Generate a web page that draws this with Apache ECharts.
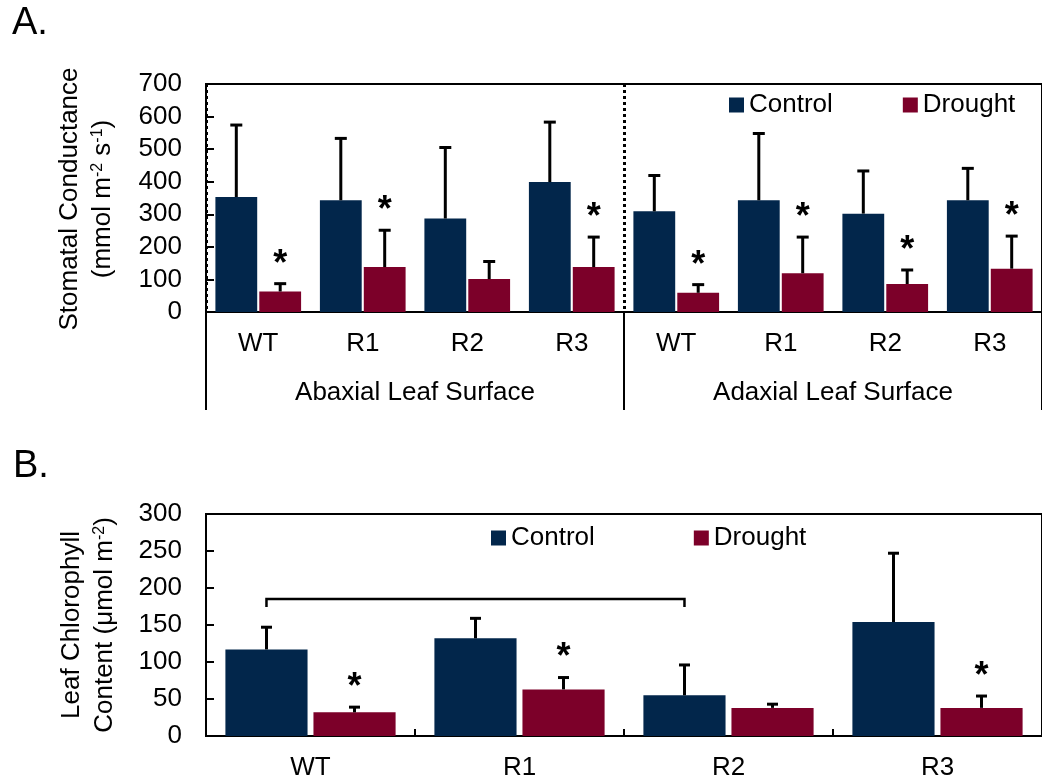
<!DOCTYPE html>
<html>
<head>
<meta charset="utf-8">
<script src="https://cdn.jsdelivr.net/npm/echarts@6/dist/echarts.min.js"></script>
<style>
  html, body { margin: 0; padding: 0; background: #fff; }
  #chart { width: 1042px; height: 783px; }
</style>
</head>
<body>
<div id="chart"></div>
<script>
// ---- Panel A: stomatal conductance (mmol m-2 s-1) ----
const genotypes = ['WT', 'R1', 'R2', 'R3'];
const surfaces = ['Abaxial Leaf Surface', 'Adaxial Leaf Surface'];
// order: abaxial WT..R3, then adaxial WT..R3
const condControl   = [353, 343, 287, 399, 309, 343, 302, 343];
const condControlSE = [221, 190, 218, 184, 110, 205, 131, 98];
const condDrought   = [63, 138, 101, 138, 59, 119, 86, 133];
const condDroughtSE = [24, 113, 54, 92, 25, 111, 43, 100];
const condDroughtSig = [1, 1, 0, 1, 1, 1, 1, 1];

// ---- Panel B: leaf chlorophyll content (umol m-2) ----
const chlControl   = [117, 132, 55, 154];
const chlControlSE = [30, 27, 41, 93];
const chlDrought   = [32, 63, 38, 38];
const chlDroughtSE = [7, 16, 5, 16];
const chlDroughtSig = [1, 1, 0, 1];
// bracket linking WT and R2 control bars
const chlBracket = { from: 0, to: 2, level: 185 };

const NAVY = '#02264B';
const MAROON = '#7C0029';
const FONT = "'Liberation Sans', Arial, sans-serif";

// category keys for the two surfaces in panel A
const condCats = [];
surfaces.forEach((s, si) => genotypes.forEach(g => condCats.push(si + ':' + g)));

// bar geometry per panel (fractions of the category band)
const geoA = { w: 0.40, g: 0.05, cap: 12 };
const geoB = { w: 0.393, g: 0.072, cap: 11 };

function barCenterX(api, idx, sign, geo) {
  const c = api.coord([idx, 0])[0];
  const band = api.size([1, 0])[0];
  const bw = band * geo.w;
  return c + sign * bw * (1 + geo.g) / 2;
}

function errorSeries(name, xi, yi, means, errs, sig, sign, geo) {
  return {
    name: name,
    type: 'custom',
    xAxisIndex: xi,
    yAxisIndex: yi,
    z: 5,
    data: means.map((m, i) => [i, m, m + errs[i], sig ? sig[i] : 0]),
    encode: { x: 0, y: [1, 2] },
    renderItem: function (params, api) {
      const i = api.value(0);
      const x = barCenterX(api, i, sign, geo);
      const yb = api.coord([i, api.value(1)])[1];
      const yt = api.coord([i, api.value(2)])[1];
      const children = [
        { type: 'line', shape: { x1: x, y1: yb, x2: x, y2: yt },
          style: { stroke: '#000', lineWidth: 3 } },
        { type: 'line', shape: { x1: x - geo.cap / 2, y1: yt, x2: x + geo.cap / 2, y2: yt },
          style: { stroke: '#000', lineWidth: 3 } }
      ];
      if (api.value(3)) {
        children.push({ type: 'text', x: x, y: yt - 19,
          style: { text: '*', align: 'center', verticalAlign: 'middle',
                   font: 'bold 36px ' + FONT, fill: '#000' } });
      }
      return { type: 'group', children: children };
    }
  };
}

const axisLineStyle = { color: '#000', width: 2 };
const tickLabel = { color: '#000', fontSize: 26, fontFamily: FONT };

const option = {
  animation: false,
  backgroundColor: '#fff',
  grid: [
    { left: 206, top: 84, width: 840, height: 228, show: true,
      borderColor: '#000', borderWidth: 2, backgroundColor: 'transparent' },
    { left: 206, top: 514, width: 844, height: 222, show: true,
      borderColor: '#000', borderWidth: 2, backgroundColor: 'transparent' }
  ],
  legend: [
    { left: 724, top: 87, data: ['Control', 'Drought'], icon: 'rect',
      itemWidth: 15, itemHeight: 15, itemGap: 70,
      textStyle: { fontSize: 26, color: '#000', fontFamily: FONT } },
    { left: 486, top: 520, data: ['Control', 'Drought'], icon: 'rect',
      itemWidth: 15, itemHeight: 15, itemGap: 99,
      textStyle: { fontSize: 26, color: '#000', fontFamily: FONT } }
  ],
  xAxis: [
    { // genotype axis, panel A
      type: 'category', gridIndex: 0, data: condCats, position: 'bottom',
      axisLine: { onZero: false, lineStyle: axisLineStyle },
      axisTick: { show: false },
      axisLabel: Object.assign({ margin: 19, interval: 0,
        formatter: v => v.split(':')[1] }, tickLabel),
      splitLine: { show: false }
    },
    { // leaf surface grouping axis, panel A
      type: 'category', gridIndex: 0, data: surfaces, position: 'bottom',
      axisLine: { show: false, onZero: false },
      axisTick: { show: true, interval: 0, length: 98, lineStyle: axisLineStyle },
      axisLabel: Object.assign({ margin: 68, interval: 0 }, tickLabel),
      splitLine: { show: true, interval: 0,
        lineStyle: { color: '#000', width: 3, type: [3, 3] } }
    },
    { // genotype axis, panel B
      type: 'category', gridIndex: 1, data: genotypes, position: 'bottom',
      axisLine: { onZero: false, lineStyle: axisLineStyle },
      axisTick: { show: true, inside: true, interval: 0, length: 7, lineStyle: axisLineStyle },
      axisLabel: Object.assign({ margin: 19, interval: 0 }, tickLabel),
      splitLine: { show: false }
    }
  ],
  yAxis: [
    { type: 'value', gridIndex: 0, min: 0, max: 700, interval: 100,
      axisLine: { show: true, lineStyle: axisLineStyle },
      axisTick: { show: true, inside: true, length: 8, lineStyle: axisLineStyle },
      axisLabel: Object.assign({ margin: 24 }, tickLabel),
      splitLine: { show: false } },
    { type: 'value', gridIndex: 1, min: 0, max: 300, interval: 50,
      axisLine: { show: true, lineStyle: axisLineStyle },
      axisTick: { show: true, inside: true, length: 8, lineStyle: axisLineStyle },
      axisLabel: Object.assign({ margin: 24 }, tickLabel),
      splitLine: { show: false } }
  ],
  series: [
    { name: 'Control', type: 'bar', xAxisIndex: 0, yAxisIndex: 0, data: condControl,
      barWidth: '40%', barGap: '5%', itemStyle: { color: NAVY } },
    { name: 'Drought', type: 'bar', xAxisIndex: 0, yAxisIndex: 0, data: condDrought,
      barWidth: '40%', barGap: '5%', itemStyle: { color: MAROON } },
    errorSeries('Control', 0, 0, condControl, condControlSE, null, -1, geoA),
    errorSeries('Drought', 0, 0, condDrought, condDroughtSE, condDroughtSig, 1, geoA),

    { name: 'Control', type: 'bar', xAxisIndex: 2, yAxisIndex: 1, data: chlControl,
      barWidth: '39.3%', barGap: '7.2%', itemStyle: { color: NAVY } },
    { name: 'Drought', type: 'bar', xAxisIndex: 2, yAxisIndex: 1, data: chlDrought,
      barWidth: '39.3%', barGap: '7.2%', itemStyle: { color: MAROON } },
    errorSeries('Control', 2, 1, chlControl, chlControlSE, null, -1, geoB),
    errorSeries('Drought', 2, 1, chlDrought, chlDroughtSE, chlDroughtSig, 1, geoB),
    { // comparison bracket over control bars
      type: 'custom', xAxisIndex: 2, yAxisIndex: 1, z: 5,
      data: [[chlBracket.from, chlBracket.level, chlBracket.to]],
      encode: { x: 0, y: 1 },
      renderItem: function (params, api) {
        const x1 = barCenterX(api, api.value(0), -1, geoB);
        const x2 = barCenterX(api, api.value(2), -1, geoB);
        const y = api.coord([api.value(0), api.value(1)])[1];
        return { type: 'polyline',
          shape: { points: [[x1, y + 8], [x1, y], [x2, y], [x2, y + 8]] },
          style: { stroke: '#000', lineWidth: 2.5, fill: null } };
      }
    }
  ],
  graphic: [
    { type: 'text', x: 12, y: 24, style: { text: 'A.', font: '38px ' + FONT,
      fill: '#000', verticalAlign: 'middle' } },
    { type: 'text', x: 13, y: 467, style: { text: 'B.', font: '38px ' + FONT,
      fill: '#000', verticalAlign: 'middle' } },
    { type: 'text', x: 70, y: 199, rotation: Math.PI / 2,
      style: { text: 'Stomatal Conductance', font: '26px ' + FONT, fill: '#000',
               align: 'center', verticalAlign: 'middle' } },
    { type: 'text', x: 103, y: 199, rotation: Math.PI / 2,
      style: { text: '(mmol m{sup|-2} s{sup|-1})', font: '26px ' + FONT, fill: '#000',
               align: 'center', verticalAlign: 'middle',
               rich: { sup: { fontSize: 16, fontFamily: FONT, verticalAlign: 'top', lineHeight: 26 } } } },
    { type: 'text', x: 72, y: 625, rotation: Math.PI / 2,
      style: { text: 'Leaf Chlorophyll', font: '26px ' + FONT, fill: '#000',
               align: 'center', verticalAlign: 'middle' } },
    { type: 'text', x: 105, y: 625, rotation: Math.PI / 2,
      style: { text: 'Content (μmol m{sup|-2})', font: '26px ' + FONT, fill: '#000',
               align: 'center', verticalAlign: 'middle',
               rich: { sup: { fontSize: 16, fontFamily: FONT, verticalAlign: 'top', lineHeight: 26 } } } }
  ]
};

const chart = echarts.init(document.getElementById('chart'), null, { renderer: 'canvas' });
chart.setOption(option);
</script>
</body>
</html>
